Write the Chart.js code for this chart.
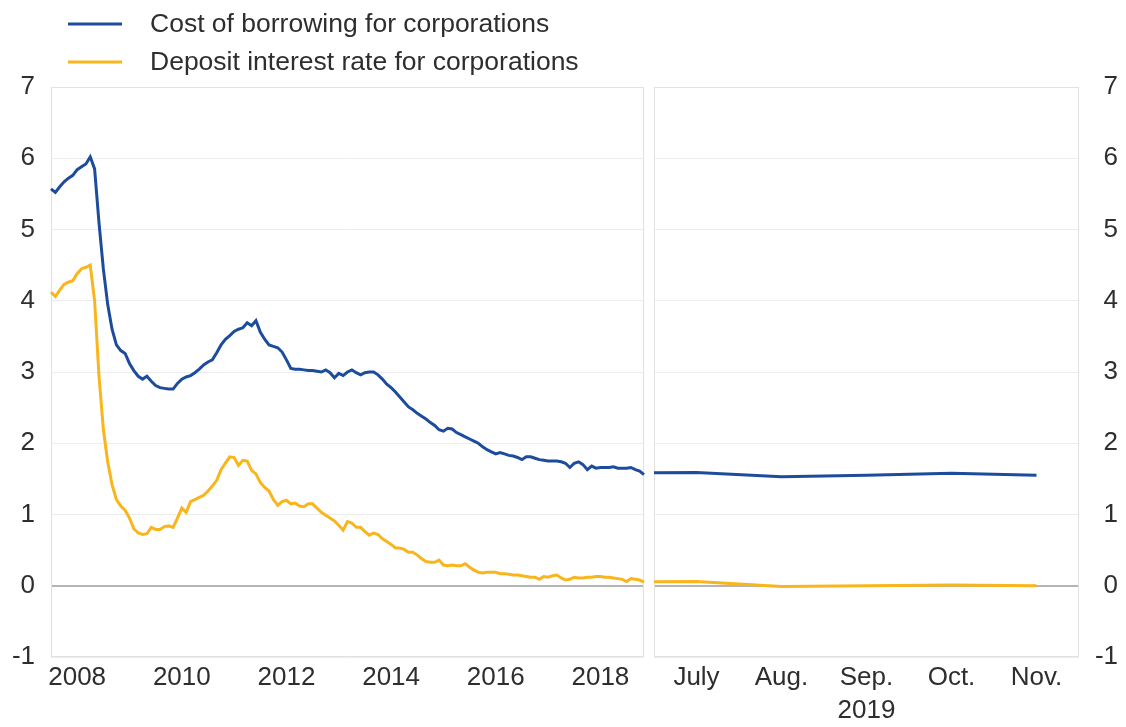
<!DOCTYPE html>
<html><head><meta charset="utf-8">
<script src="https://cdn.jsdelivr.net/npm/chart.js@4.4.1/dist/chart.umd.min.js"></script>
<style>
html,body{margin:0;padding:0;background:#fff;width:1126px;height:727px;overflow:hidden}
#left{position:absolute;left:0;top:0;width:650px;height:727px}
#right{position:absolute;left:650px;top:0;width:476px;height:727px}
</style></head><body>
<div id="left"><canvas id="c1"></canvas></div>
<div id="right"><canvas id="c2"></canvas></div>
<script>
// ---- data ----
const seriesNames = ['Cost of borrowing for corporations', 'Deposit interest rate for corporations'];
const seriesColors = ['#1d4c9c', '#f9b51c'];
const startYear = 2008;
// monthly, Jan 2008 .. May 2019
const borrowing = [
 5.57,5.52,5.60,5.67,5.72,5.76,5.84,5.88,5.92,6.02,
 5.85,5.10,4.45,3.95,3.60,3.38,3.30,3.26,3.12,3.02,
 2.94,2.90,2.94,2.87,2.81,2.78,2.77,2.76,2.76,2.84,
 2.90,2.93,2.95,2.99,3.04,3.10,3.14,3.17,3.27,3.38,
 3.46,3.51,3.57,3.60,3.62,3.69,3.65,3.72,3.56,3.46,
 3.38,3.36,3.34,3.28,3.17,3.05,3.04,3.04,3.03,3.02,
 3.02,3.01,3.00,3.03,2.99,2.92,2.98,2.95,3.00,3.03,
 2.99,2.96,2.99,3.00,3.00,2.96,2.90,2.83,2.78,2.72,
 2.65,2.58,2.51,2.47,2.42,2.38,2.34,2.29,2.25,2.19,
 2.17,2.21,2.20,2.15,2.12,2.09,2.06,2.03,2.00,1.95,
 1.91,1.88,1.85,1.87,1.85,1.83,1.82,1.80,1.77,1.81,
 1.81,1.79,1.77,1.76,1.75,1.75,1.75,1.74,1.72,1.66,
 1.72,1.74,1.70,1.63,1.68,1.65,1.66,1.66,1.66,1.67,
 1.65,1.65,1.65,1.66,1.63,1.61,1.56
];
const deposit = [
 4.12,4.06,4.15,4.23,4.26,4.28,4.38,4.45,4.47,4.50,
 4.00,2.95,2.20,1.74,1.42,1.21,1.12,1.06,0.95,0.80,
 0.74,0.72,0.73,0.82,0.79,0.79,0.83,0.84,0.82,0.95,
 1.09,1.03,1.18,1.21,1.24,1.27,1.33,1.40,1.48,1.63,
 1.72,1.81,1.80,1.69,1.76,1.75,1.62,1.57,1.45,1.38,
 1.33,1.21,1.13,1.18,1.20,1.15,1.16,1.12,1.11,1.15,
 1.15,1.09,1.03,0.99,0.95,0.91,0.85,0.78,0.90,0.88,
 0.82,0.82,0.76,0.71,0.74,0.72,0.66,0.62,0.58,0.53,
 0.53,0.51,0.47,0.47,0.43,0.38,0.34,0.33,0.33,0.36,
 0.29,0.28,0.29,0.28,0.28,0.31,0.26,0.22,0.19,0.18,
 0.19,0.19,0.19,0.17,0.17,0.16,0.15,0.15,0.14,0.13,
 0.12,0.12,0.09,0.13,0.12,0.14,0.15,0.11,0.08,0.09,
 0.12,0.11,0.11,0.12,0.12,0.13,0.13,0.12,0.12,0.11,
 0.10,0.09,0.06,0.10,0.09,0.08,0.05
];
const yearLabels = ['2008','2010','2012','2014','2016','2018'];
const recentMonths = ['June','July','Aug.','Sep.','Oct.','Nov.'];
const recentBorrowing = [1.58,1.59,1.53,1.55,1.58,1.55];
const recentDeposit = [0.05,0.06,-0.01,0.00,0.01,0.00];
const recentYear = '2019';
const yMin = -1, yMax = 7;

// ---- build ----
const monthKeys = borrowing.map((_, i) => {
  const y = startYear + Math.floor(i / 12), m = i % 12 + 1;
  return y + '-' + (m < 10 ? '0' + m : m);
});
const FONT = "'Liberation Sans', Arial, Helvetica, sans-serif";
const TXT = '#2e2e2e';
const TICK_SIZE = 26;
const gridColor = c => (c.tick && c.tick.value === 0) ? '#b4b4b4' : '#ececec';
const gridWidth = c => (c.tick && c.tick.value === 0) ? 2 : 1;

const framePlugin = {
  id: 'frame',
  beforeDatasetsDraw(chart) {
    const a = chart.chartArea, ctx = chart.ctx;
    ctx.save();
    ctx.strokeStyle = '#e2e2e2';
    ctx.lineWidth = 1;
    ctx.strokeRect(a.left + 0.5, a.top + 0.5, a.right - a.left - 1, a.bottom - a.top - 1);
    ctx.restore();
  }
};
const legendPlugin = {
  id: 'topLegend',
  afterDraw(chart) {
    const ctx = chart.ctx;
    ctx.save();
    chart.data.datasets.forEach((ds, i) => {
      const y = 24 + i * 38;
      ctx.strokeStyle = ds.borderColor;
      ctx.lineWidth = 3;
      ctx.beginPath(); ctx.moveTo(68, y); ctx.lineTo(122, y); ctx.stroke();
      ctx.fillStyle = TXT;
      ctx.font = '26.5px ' + FONT;
      ctx.textBaseline = 'middle';
      ctx.textAlign = 'left';
      ctx.fillText(ds.label, 150, y + 1);
    });
    ctx.restore();
  }
};

const yTicksCommon = {
  min: yMin, max: yMax,
  grid: { color: gridColor, lineWidth: gridWidth, drawTicks: false },
  border: { display: false }
};

new Chart(document.getElementById('c1'), {
  type: 'line',
  data: {
    labels: monthKeys,
    datasets: [
      { label: seriesNames[0], data: borrowing, borderColor: seriesColors[0], borderWidth: 3, pointRadius: 0, tension: 0 },
      { label: seriesNames[1], data: deposit, borderColor: seriesColors[1], borderWidth: 3, pointRadius: 0, tension: 0 }
    ]
  },
  options: {
    responsive: true, maintainAspectRatio: false, animation: false, devicePixelRatio: 1,
    layout: { padding: { top: 87, right: 6, left: 0, bottom: 0 } },
    plugins: { legend: { display: false }, tooltip: { enabled: false } },
    scales: {
      x: {
        type: 'category',
        grid: { display: false, drawTicks: false },
        border: { display: false },
        ticks: {
          autoSkip: false, maxRotation: 0, padding: 5,
          color: TXT, font: { family: FONT, size: TICK_SIZE },
          callback(v) {
            const k = this.getLabelForValue(v);
            const yr = k.slice(0, 4);
            return (k.slice(5) === '07' && yearLabels.includes(yr)) ? yr : '';
          }
        },
        afterFit(s) { s.height = 70; }
      },
      y: Object.assign({}, yTicksCommon, {
        position: 'left',
        ticks: { stepSize: 1, padding: 16, color: TXT, font: { family: FONT, size: TICK_SIZE } },
        afterFit(s) { s.width = 51; }
      })
    }
  },
  plugins: [framePlugin, legendPlugin]
});

new Chart(document.getElementById('c2'), {
  type: 'line',
  data: {
    datasets: [
      { label: seriesNames[0], data: recentBorrowing.map((v, i) => ({ x: i - 1, y: v })), borderColor: seriesColors[0], borderWidth: 3, pointRadius: 0, tension: 0 },
      { label: seriesNames[1], data: recentDeposit.map((v, i) => ({ x: i - 1, y: v })), borderColor: seriesColors[1], borderWidth: 3, pointRadius: 0, tension: 0 }
    ]
  },
  options: {
    responsive: true, maintainAspectRatio: false, animation: false, devicePixelRatio: 1,
    layout: { padding: { top: 87, right: 8, left: 4, bottom: 0 } },
    plugins: { legend: { display: false }, tooltip: { enabled: false } },
    scales: {
      x: {
        type: 'linear', min: -0.5, max: recentMonths.length - 1.5,
        grid: { display: false, drawTicks: false },
        border: { display: false },
        afterBuildTicks(s) { s.ticks = recentMonths.slice(1).map((_, i) => ({ value: i })); },
        ticks: {
          autoSkip: false, maxRotation: 0, padding: 5,
          color: TXT, font: { family: FONT, size: TICK_SIZE },
          callback(v) { return recentMonths[v + 1]; }
        },
        title: { display: true, text: recentYear, color: TXT, font: { family: FONT, size: TICK_SIZE }, padding: { top: 0, bottom: 1 } },
        afterFit(s) { s.height = 70; }
      },
      y: Object.assign({}, yTicksCommon, {
        position: 'right',
        ticks: { stepSize: 1, crossAlign: 'far', color: TXT, font: { family: FONT, size: TICK_SIZE } },
        afterFit(s) { s.width = 39; }
      })
    }
  },
  plugins: [framePlugin]
});
</script>
</body></html>
